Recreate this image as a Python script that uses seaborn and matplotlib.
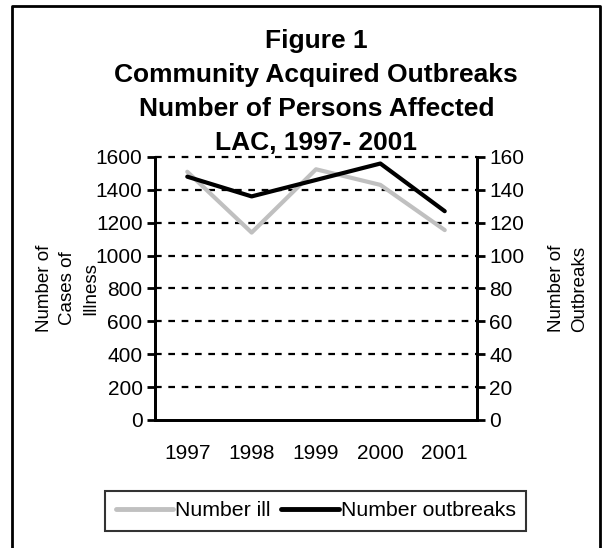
import pandas as pd
import seaborn as sns
import matplotlib.pyplot as plt
from matplotlib.lines import Line2D

years = ['1997', '1998', '1999', '2000', '2001']
number_ill = [1510, 1140, 1525, 1430, 1155]
number_outbreaks = [148, 136, 146, 156, 127]
title_lines = ['Figure 1', 'Community Acquired Outbreaks',
               'Number of Persons Affected', 'LAC, 1997- 2001']

df = pd.DataFrame({'Year': years, 'Number ill': number_ill,
                   'Number outbreaks': number_outbreaks})

sns.set_style('white')
plt.rcParams['font.family'] = ['Liberation Sans', 'DejaVu Sans']
plt.rcParams.update({'text.color': 'black', 'axes.labelcolor': 'black',
                     'xtick.color': 'black', 'ytick.color': 'black'})

fig = plt.figure(figsize=(6.13, 5.48), dpi=100)
ax = fig.add_axes([0.253, 0.2336, 0.525, 0.48])
ax2 = ax.twinx()

sns.lineplot(data=df, x='Year', y='Number ill', ax=ax, color='#c0c0c0',
             linewidth=3, sort=False, label='Number ill', legend=False)
sns.lineplot(data=df, x='Year', y='Number outbreaks', ax=ax2, color='black',
             linewidth=3, sort=False, label='Number outbreaks', legend=False)

ax.set_xlim(-0.5, 4.5)
ax.set_ylim(0, 1600)
ax2.set_ylim(0, 160)
ax.set_yticks(range(0, 1601, 200))
ax2.set_yticks(range(0, 161, 20))

# category boundaries as ticks, labels at centres
ax.set_xticks([i - 0.5 for i in range(6)])
ax.set_xticklabels([])
ax.set_xticks(range(5), minor=True)
ax.set_xticklabels(years, minor=True)
ax.tick_params(axis='x', which='major', length=7, width=2, direction='out')
ax.tick_params(axis='x', which='minor', length=0, pad=17, labelsize=15)
ax.tick_params(axis='y', length=6, width=2, direction='out', labelsize=15, pad=3)
ax2.tick_params(axis='y', length=6, width=2, direction='out', labelsize=15, pad=3)

for y in range(200, 1601, 200):
    ax.axhline(y, color='black', linewidth=1.6, linestyle=(0, (3, 3)), zorder=0,
               clip_on=False)

for a in (ax, ax2):
    a.spines['top'].set_visible(False)
    for s in ('left', 'right', 'bottom'):
        a.spines[s].set_linewidth(2)
        a.spines[s].set_color('black')
ax.set_xlabel('')
ax.set_ylabel('Number of\nCases of\nIllness', fontsize=13.5, linespacing=1.45)
ax.yaxis.set_label_coords(-0.174, 0.5)
ax2.set_ylabel('Number of\nOutbreaks', fontsize=13.5, linespacing=1.45, rotation=90)
ax2.yaxis.set_label_coords(1.222, 0.5)

# title, one text per line
for i, line in enumerate(title_lines):
    fig.text(0.516, 0.9252 - i * 0.062, line, ha='center', va='center',
             fontsize=19, fontweight='bold')

handles = [Line2D([], [], color='#c0c0c0', linewidth=3.5),
           Line2D([], [], color='black', linewidth=3.5)]
leg = fig.legend(handles, ['Number ill', 'Number outbreaks'], ncol=2,
                 loc='center', bbox_to_anchor=(0.515, 0.068), fontsize=15.3,
                 frameon=True, fancybox=False, handlelength=2.7,
                 handletextpad=0.1, columnspacing=0.5, borderpad=0.5)
leg.get_frame().set_edgecolor('black')
leg.get_frame().set_linewidth(1.5)

# outer frame
fig.add_artist(Line2D([0.02, 0.02, 0.979, 0.979], [0, 0.989, 0.989, 0],
                      transform=fig.transFigure, color='black', linewidth=2))

fig.savefig('out.png', dpi=100)
